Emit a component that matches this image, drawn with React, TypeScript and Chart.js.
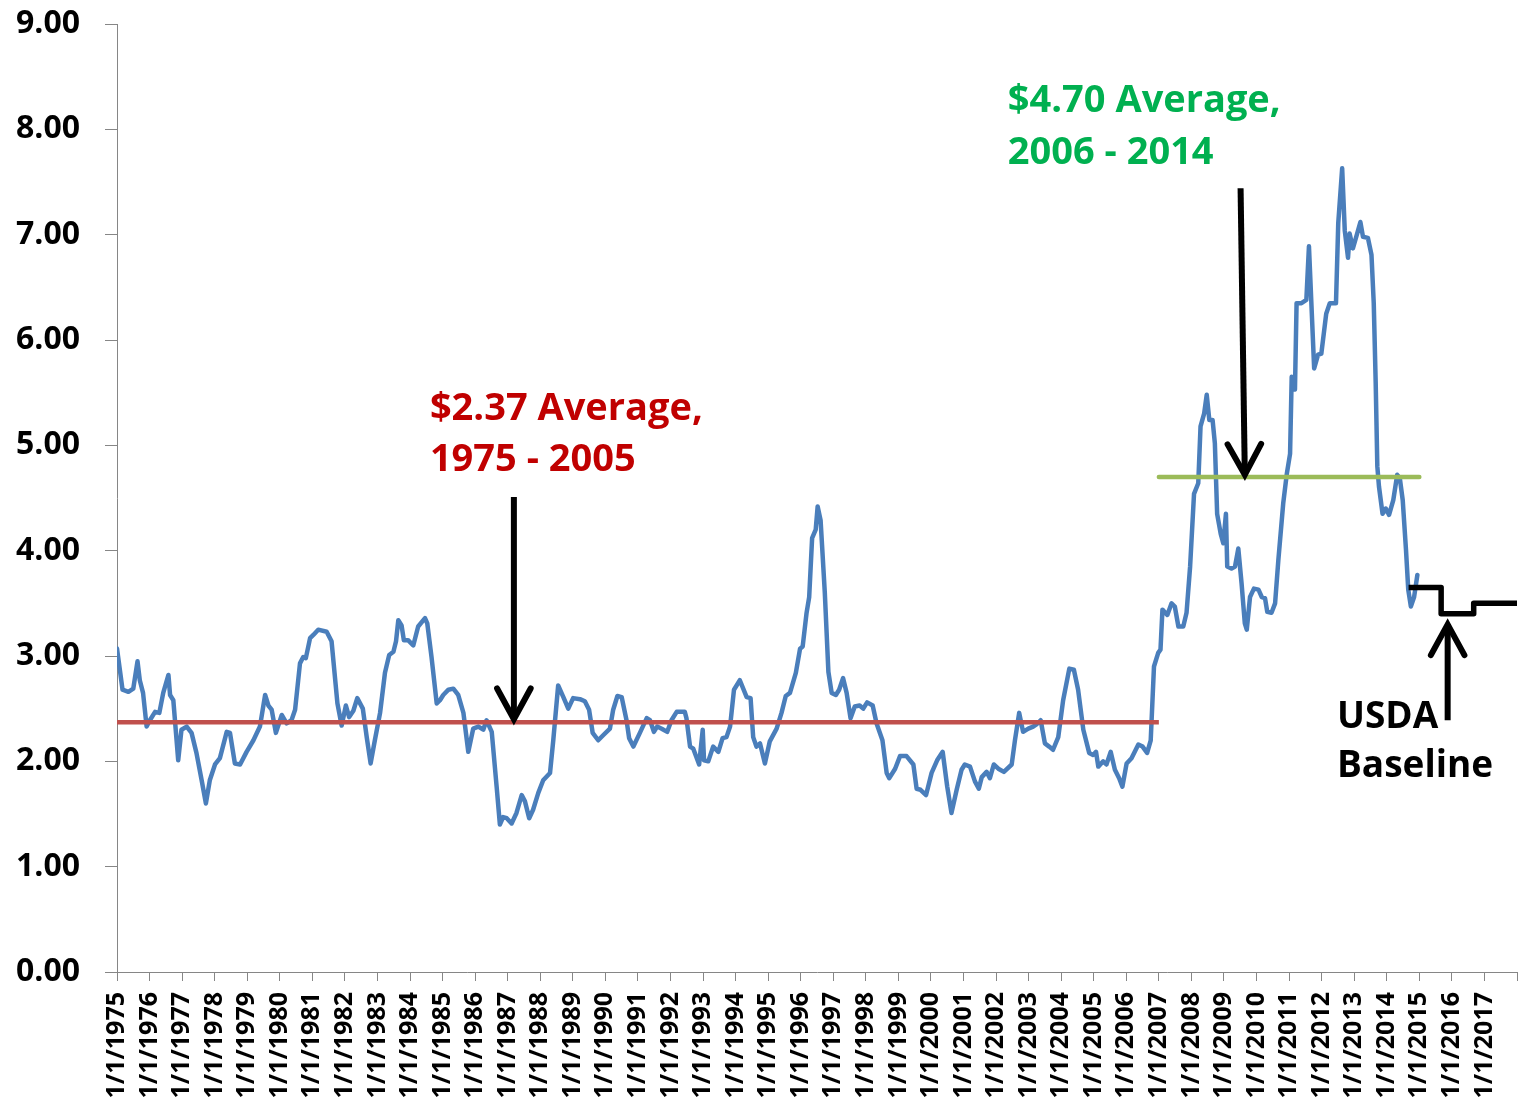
import React, { useEffect, useRef } from "react";
import Chart from "chart.js/auto";

// Monthly corn price series (decimal year, $/bu)
const dates: number[] = [
  1975.0, 1975.17, 1975.35, 1975.5, 1975.63, 1975.7, 1975.8, 1975.91, 1976.01, 1976.17,
  1976.3, 1976.42, 1976.58, 1976.63, 1976.73, 1976.88, 1976.98, 1977.14, 1977.29, 1977.44,
  1977.6, 1977.73, 1977.85, 1978.01, 1978.16, 1978.37, 1978.47, 1978.62, 1978.78, 1978.98,
  1979.19, 1979.39, 1979.55, 1979.65, 1979.75, 1979.88, 1980.06, 1980.21, 1980.36, 1980.47,
  1980.62, 1980.72, 1980.8, 1980.93, 1981.03, 1981.18, 1981.44, 1981.59, 1981.77, 1981.9,
  1982.03, 1982.13, 1982.26, 1982.38, 1982.55, 1982.67, 1982.79, 1982.92, 1983.08, 1983.23,
  1983.36, 1983.49, 1983.57, 1983.64, 1983.74, 1983.81, 1983.94, 1984.1, 1984.25, 1984.46,
  1984.53, 1984.66, 1984.82, 1984.92, 1985.02, 1985.18, 1985.33, 1985.48, 1985.64, 1985.79,
  1985.94, 1986.1, 1986.25, 1986.35, 1986.51, 1986.66, 1986.76, 1986.86, 1986.97, 1987.12,
  1987.27, 1987.43, 1987.53, 1987.66, 1987.78, 1987.94, 1988.09, 1988.3, 1988.4, 1988.55,
  1988.71, 1988.86, 1989.01, 1989.22, 1989.37, 1989.5, 1989.61, 1989.78, 1989.94, 1990.14,
  1990.24, 1990.37, 1990.5, 1990.65, 1990.73, 1990.86, 1991.06, 1991.27, 1991.37, 1991.49,
  1991.59, 1991.73, 1991.9, 1992.03, 1992.19, 1992.44, 1992.49, 1992.6, 1992.7, 1992.88,
  1992.99, 1993.03, 1993.16, 1993.31, 1993.47, 1993.6, 1993.72, 1993.83, 1993.95, 1994.13,
  1994.34, 1994.46, 1994.54, 1994.64, 1994.75, 1994.9, 1995.05, 1995.26, 1995.41, 1995.54,
  1995.67, 1995.85, 1995.98, 1996.06, 1996.18, 1996.26, 1996.35, 1996.46, 1996.52, 1996.61,
  1996.74, 1996.85, 1996.95, 1997.08, 1997.18, 1997.3, 1997.41, 1997.53, 1997.66, 1997.81,
  1997.92, 1998.04, 1998.21, 1998.33, 1998.51, 1998.64, 1998.72, 1998.9, 1999.05, 1999.25,
  1999.46, 1999.56, 1999.68, 1999.85, 2000.02, 2000.19, 2000.36, 2000.5, 2000.63, 2000.79,
  2000.94, 2001.04, 2001.2, 2001.35, 2001.47, 2001.56, 2001.71, 2001.81, 2001.93, 2002.07,
  2002.24, 2002.48, 2002.58, 2002.71, 2002.83, 2002.99, 2003.14, 2003.24, 2003.37, 2003.5,
  2003.63, 2003.75, 2003.91, 2004.06, 2004.25, 2004.39, 2004.52, 2004.68, 2004.86, 2004.98,
  2005.07, 2005.14, 2005.29, 2005.39, 2005.52, 2005.65, 2005.78, 2005.88, 2006.01, 2006.16,
  2006.37, 2006.5, 2006.64, 2006.75, 2006.85, 2006.98, 2007.05, 2007.11, 2007.26, 2007.39,
  2007.49, 2007.6, 2007.75, 2007.85, 2007.96, 2008.08, 2008.21, 2008.28, 2008.39, 2008.47,
  2008.55, 2008.65, 2008.72, 2008.79, 2008.9, 2008.98, 2009.06, 2009.1, 2009.23, 2009.34,
  2009.44, 2009.54, 2009.64, 2009.7, 2009.8, 2009.92, 2010.06, 2010.16, 2010.26, 2010.33,
  2010.46, 2010.57, 2010.67, 2010.82, 2010.93, 2011.03, 2011.08, 2011.18, 2011.23, 2011.38,
  2011.53, 2011.61, 2011.68, 2011.77, 2011.89, 2011.99, 2012.14, 2012.25, 2012.44, 2012.51,
  2012.63, 2012.71, 2012.81, 2012.86, 2012.96, 2013.09, 2013.19, 2013.27, 2013.42, 2013.53,
  2013.6, 2013.66, 2013.71, 2013.76, 2013.87, 2013.97, 2014.07, 2014.2, 2014.32, 2014.4,
  2014.49, 2014.59, 2014.66, 2014.74, 2014.84, 2014.94,
];
const prices: number[] = [
  3.07, 2.68, 2.66, 2.69, 2.95, 2.77, 2.65, 2.33, 2.39, 2.47,
  2.46, 2.65, 2.82, 2.63, 2.58, 2.01, 2.3, 2.33, 2.27, 2.08,
  1.82, 1.6, 1.82, 1.97, 2.03, 2.28, 2.27, 1.98, 1.97, 2.09,
  2.2, 2.33, 2.63, 2.53, 2.49, 2.27, 2.44, 2.36, 2.39, 2.49,
  2.93, 2.99, 2.98, 3.17, 3.2, 3.25, 3.23, 3.14, 2.55, 2.34,
  2.53, 2.42, 2.48, 2.6, 2.5, 2.23, 1.98, 2.2, 2.46, 2.84,
  3.01, 3.04, 3.14, 3.34, 3.29, 3.15, 3.15, 3.1, 3.28, 3.36,
  3.31, 2.99, 2.55, 2.58, 2.63, 2.68, 2.69, 2.63, 2.46, 2.09,
  2.31, 2.33, 2.3, 2.39, 2.28, 1.76, 1.4, 1.47, 1.46, 1.41,
  1.51, 1.68, 1.62, 1.46, 1.54, 1.7, 1.82, 1.89, 2.2, 2.72,
  2.61, 2.5, 2.6, 2.59, 2.57, 2.49, 2.27, 2.2, 2.25, 2.31,
  2.49, 2.62, 2.61, 2.39, 2.22, 2.14, 2.27, 2.41, 2.39, 2.28,
  2.33, 2.31, 2.28, 2.39, 2.47, 2.47, 2.41, 2.14, 2.12, 1.97,
  2.3, 2.01, 2.0, 2.14, 2.09, 2.22, 2.23, 2.33, 2.68, 2.77,
  2.61, 2.6, 2.23, 2.14, 2.17, 1.98, 2.19, 2.31, 2.46, 2.62,
  2.65, 2.84, 3.07, 3.09, 3.41, 3.56, 4.12, 4.2, 4.42, 4.29,
  3.6, 2.85, 2.65, 2.63, 2.68, 2.79, 2.65, 2.41, 2.52, 2.53,
  2.5, 2.56, 2.53, 2.36, 2.2, 1.89, 1.84, 1.93, 2.05, 2.05,
  1.97, 1.74, 1.73, 1.68, 1.89, 2.01, 2.09, 1.76, 1.51, 1.73,
  1.92, 1.97, 1.95, 1.81, 1.74, 1.85, 1.9, 1.84, 1.97, 1.93,
  1.9, 1.97, 2.2, 2.46, 2.28, 2.31, 2.33, 2.35, 2.39, 2.17,
  2.14, 2.11, 2.23, 2.58, 2.88, 2.87, 2.68, 2.3, 2.08, 2.06,
  2.09, 1.95, 2.0, 1.97, 2.09, 1.92, 1.84, 1.76, 1.98, 2.03,
  2.16, 2.14, 2.08, 2.2, 2.9, 3.03, 3.06, 3.44, 3.39, 3.5,
  3.47, 3.28, 3.28, 3.41, 3.85, 4.54, 4.64, 5.18, 5.3, 5.48,
  5.24, 5.24, 5.02, 4.35, 4.16, 4.07, 4.35, 3.85, 3.83, 3.85,
  4.02, 3.69, 3.31, 3.25, 3.56, 3.64, 3.63, 3.56, 3.55, 3.42,
  3.41, 3.5, 3.91, 4.45, 4.73, 4.92, 5.65, 5.53, 6.35, 6.35,
  6.38, 6.89, 6.38, 5.73, 5.86, 5.87, 6.25, 6.35, 6.35, 7.11,
  7.63, 7.04, 6.78, 7.01, 6.87, 7.01, 7.12, 6.98, 6.97, 6.81,
  6.35, 5.59, 4.8, 4.61, 4.35, 4.4, 4.34, 4.48, 4.72, 4.69,
  4.48, 4.01, 3.63, 3.47, 3.56, 3.77,
];

// Period averages
const avgEarlyRange: number[] = [1975, 2007];
const avgEarlyValue = 2.37;
const avgLateRange: number[] = [2007, 2015];
const avgLateValue = 4.7;

// USDA baseline (stepped, marketing years)
const baselineDates: number[] = [2014.67, 2015.67, 2016.67, 2018];
const baselineValues: number[] = [3.65, 3.4, 3.5, 3.5];

// Axis ticks
const tickYears: number[] = Array.from({ length: 44 }, (_, i) => 1975 + i);
const lastLabeledYear = 2017;
const yTicks: number[] = [0, 1, 2, 3, 4, 5, 6, 7, 8, 9];

// Annotation texts
const noteEarly: string[] = ["$2.37 Average,", "1975 - 2005"];
const noteLate: string[] = ["$4.70 Average,", "2006 - 2014"];
const noteUsda: string[] = ["USDA", "Baseline"];

// Arrows: [xFrom, yFrom, xTo, yTo] in data units
const arrowEarly: number[] = [1987.19, 4.51, 1987.19, 2.4];
const arrowLate: number[] = [2009.51, 7.44, 2009.64, 4.72];
const arrowUsda: number[] = [2015.87, 2.39, 2015.87, 3.3];

const FONT = '"Open Sans", "Liberation Sans", sans-serif';

const annotationPlugin = {
  id: "annotations",
  afterDatasetsDraw(chart: any) {
    const ctx = chart.ctx as CanvasRenderingContext2D;
    const xs = chart.scales.x;
    const ys = chart.scales.y;
    const px = (v: number) => xs.getPixelForValue(v);
    const py = (v: number) => ys.getPixelForValue(v);

    const drawArrow = (a: number[]) => {
      const x1 = px(a[0]), y1 = py(a[1]), x2 = px(a[2]), y2 = py(a[3]);
      const ang = Math.atan2(y2 - y1, x2 - x1);
      ctx.save();
      ctx.strokeStyle = "#000";
      ctx.lineWidth = 6;
      ctx.lineCap = "butt";
      ctx.beginPath();
      ctx.moveTo(x1, y1);
      ctx.lineTo(x2 - Math.cos(ang) * 3, y2 - Math.sin(ang) * 3);
      ctx.stroke();
      const L = 35;
      const spread = 0.5;
      ctx.lineCap = "round";
      ctx.lineJoin = "miter";
      ctx.beginPath();
      ctx.moveTo(x2 - L * Math.cos(ang - spread), y2 - L * Math.sin(ang - spread));
      ctx.lineTo(x2, y2);
      ctx.lineTo(x2 - L * Math.cos(ang + spread), y2 - L * Math.sin(ang + spread));
      ctx.stroke();
      ctx.restore();
    };

    const drawText = (lines: string[], x: number, y: number, color: string, lh: number, size: number) => {
      ctx.save();
      ctx.fillStyle = color;
      ctx.font = `bold ${size}px ${FONT}`;
      ctx.textAlign = "left";
      ctx.textBaseline = "alphabetic";
      lines.forEach((t, i) => ctx.fillText(t, px(x), py(y) + i * lh));
      ctx.restore();
    };

    drawArrow(arrowEarly);
    drawArrow(arrowLate);
    drawArrow(arrowUsda);
    drawText(noteEarly, 1984.61, 5.24, "#C00000", 51, 38);
    drawText(noteLate, 2002.36, 8.16, "#00B050", 52, 38);
    drawText(noteUsda, 2012.47, 2.32, "#000000", 49, 37);
  },
};

export default function App() {
  const ref = useRef<HTMLCanvasElement | null>(null);

  useEffect(() => {
    document.body.style.margin = "0";
    const canvas = ref.current;
    if (!canvas) return;

    const series = dates.map((d, i) => ({ x: d, y: prices[i] }));
    const early = avgEarlyRange.map((d) => ({ x: d, y: avgEarlyValue }));
    const late = avgLateRange.map((d) => ({ x: d, y: avgLateValue }));
    const baseline = baselineDates.map((d, i) => ({ x: d, y: baselineValues[i] }));

    const chart = new Chart(canvas, {
      type: "line",
      data: {
        datasets: [
          {
            label: "Price",
            data: series,
            borderColor: "#4A7EBB",
            borderWidth: 4.5,
            pointRadius: 0,
            tension: 0,
            borderJoinStyle: "round",
            borderCapStyle: "round",
            order: 3,
          },
          {
            label: "Average 1975-2005",
            data: early,
            borderColor: "#C0504D",
            borderWidth: 4.5,
            pointRadius: 0,
            order: 1,
          },
          {
            label: "Average 2006-2014",
            data: late,
            borderColor: "#9BBB59",
            borderWidth: 4.5,
            pointRadius: 0,
            borderCapStyle: "round",
            order: 1,
          },
          {
            label: "USDA Baseline",
            data: baseline,
            borderColor: "#000000",
            borderWidth: 5.5,
            pointRadius: 0,
            stepped: "before",
            borderJoinStyle: "round",
            order: 0,
          },
        ],
      },
      options: {
        responsive: false,
        animation: false,
        devicePixelRatio: 1,
        layout: { padding: { top: 24, right: 8, left: 0, bottom: 0 } },
        plugins: {
          legend: { display: false },
          tooltip: { enabled: false },
        },
        scales: {
          x: {
            type: "linear",
            min: 1975,
            max: 2018,
            afterBuildTicks: (scale: any) => {
              scale.ticks = tickYears.map((v) => ({ value: v }));
            },
            afterFit: (scale: any) => {
              scale.height = 127;
              scale.paddingLeft = 0;
              scale.paddingRight = 0;
            },
            grid: {
              drawOnChartArea: false,
              drawTicks: true,
              tickLength: 9,
              color: "#868686",
            },
            border: { display: true, color: "#868686", width: 1 },
            ticks: {
              autoSkip: false,
              minRotation: 90,
              maxRotation: 90,
              padding: 11,
              color: "#000",
              font: { family: FONT, size: 25, weight: "bold" },
              callback: (v: any) => (Number(v) <= lastLabeledYear ? `1/1/${v}` : ""),
            },
          },
          y: {
            type: "linear",
            min: 0,
            max: 9,
            afterBuildTicks: (scale: any) => {
              scale.ticks = yTicks.map((v) => ({ value: v }));
            },
            afterFit: (scale: any) => {
              scale.width = 117;
              scale.paddingTop = 0;
              scale.paddingBottom = 0;
            },
            grid: {
              drawOnChartArea: false,
              drawTicks: true,
              tickLength: 12,
              color: "#868686",
            },
            border: { display: true, color: "#868686", width: 1 },
            ticks: {
              padding: 25,
              color: "#000",
              font: { family: FONT, size: 32, weight: "bold" },
              callback: (v: any) => Number(v).toFixed(2),
            },
          },
        },
      },
      plugins: [annotationPlugin],
    });

    return () => chart.destroy();
  }, []);

  return (
    <div style={{ width: 1525, height: 1099, background: "#fff" }}>
      <canvas ref={ref} width={1525} height={1099} style={{ display: "block" }} />
    </div>
  );
}
